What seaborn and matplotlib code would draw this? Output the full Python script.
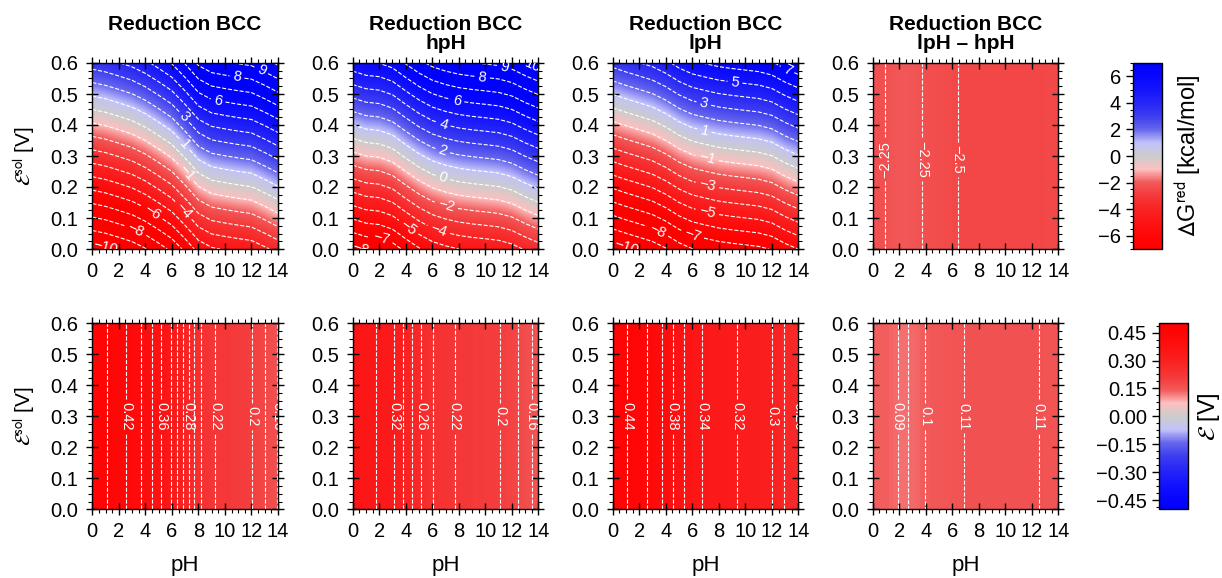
import numpy as np
import matplotlib
matplotlib.use("Agg")
import matplotlib.pyplot as plt
from matplotlib import colors as mcolors
from matplotlib.cm import ScalarMappable
from matplotlib.ticker import MultipleLocator, AutoMinorLocator, FuncFormatter
import seaborn as sns

# ---------------------------------------------------------------- data
# pH grid and reduction potential (V) of each state along it
ph_values = [0, 1, 2, 3, 4, 5, 6, 7, 8, 9, 10, 11, 12, 13, 14]
E_red_bcc = [0.450, 0.441, 0.428, 0.414, 0.393, 0.366, 0.337, 0.293,
             0.245, 0.222, 0.214, 0.207, 0.201, 0.181, 0.159]
E_red_hpH = [0.357, 0.3435, 0.339, 0.324, 0.293, 0.264, 0.241, 0.227,
             0.217, 0.211, 0.2065, 0.2015, 0.190, 0.169, 0.151]
E_red_lpH = [0.4555, 0.441, 0.428, 0.4145, 0.3935, 0.367, 0.348, 0.3375,
             0.328, 0.322, 0.317, 0.312, 0.301, 0.278, 0.2595]

F_KCAL = 23.06          # Faraday constant, kcal mol^-1 V^-1

titles = ["Reduction BCC", "Reduction BCC\nhpH", "Reduction BCC\nlpH",
          "Reduction BCC\nlpH \u2013 hpH"]

# colorbar ticks
dg_ticks = [-6, -4, -2, 0, 2, 4, 6]
e_ticks = [-0.45, -0.30, -0.15, 0.0, 0.15, 0.30, 0.45]

# contour levels and labelled contours (level, pH, E_sol) per panel
dg_levels = np.arange(-12, 13, 1)
dg_diff_levels = np.arange(-3.0, -1.9, 0.25)
e_levels = np.round(np.arange(0.0, 0.52, 0.02), 2)
e_diff_levels = [0.09, 0.1, 0.11]

top_labels = [
    [(9, 12.7, 0.573), (8, 10.9, 0.553), (6, 9.46, 0.475), (3, 6.87, 0.424),
     (1, 6.92, 0.335), (-1, 7.0, 0.243), (-4, 6.87, 0.123), (-6, 4.49, 0.114),
     (-8, 3.24, 0.06), (-10, 0.98, 0.003)],
    [(10, 13.5, 0.582), (9, 11.4, 0.582), (8, 9.75, 0.546), (6, 7.8, 0.471),
     (4, 6.77, 0.396), (2, 6.72, 0.31), (0, 6.77, 0.227), (-2, 7.0, 0.132),
     (-4, 6.47, 0.06), (-5, 4.08, 0.063), (-7, 2.12, 0.03), (-8, 0.6, 0.002)],
    [(7, 13.19, 0.58), (5, 9.19, 0.528), (3, 6.85, 0.466), (1, 6.9, 0.38),
     (-1, 7.1, 0.288), (-3, 7.1, 0.2), (-5, 7.1, 0.114), (-7, 5.97, 0.041),
     (-8, 3.37, 0.058), (-10, 1.0, 0.002)],
    [(-2.25, 0.9, 0.29), (-2.25, 3.6, 0.29), (-2.5, 6.3, 0.29)],
]
bottom_labels = [
    [(0.42, 2.6, 0.3), (0.36, 5.2, 0.3), (0.28, 7.27, 0.3), (0.22, 9.2, 0.3),
     (0.2, 12.05, 0.3), (0.16, 13.95, 0.3)],
    [(0.32, 3.1, 0.3), (0.26, 5.1, 0.3), (0.22, 7.7, 0.3), (0.2, 11.1, 0.3),
     (0.16, 13.5, 0.3)],
    [(0.44, 1.07, 0.3), (0.38, 4.5, 0.3), (0.34, 6.8, 0.3), (0.32, 9.4, 0.3),
     (0.3, 12.0, 0.3), (0.26, 14.0, 0.3)],
    [(0.09, 1.9, 0.3), (0.1, 3.95, 0.3), (0.11, 6.9, 0.3), (0.11, 12.5, 0.3)],
]

# ---------------------------------------------------------------- style
sns.set_theme(style="ticks")
plt.rcParams["font.family"] = ["Liberation Sans", "DejaVu Sans"]
plt.rcParams["mathtext.fontset"] = "stixsans"
plt.rcParams["axes.linewidth"] = 1.0
plt.rcParams["axes.edgecolor"] = "black"
plt.rcParams["axes.labelcolor"] = "black"
plt.rcParams["text.color"] = "black"
plt.rcParams["xtick.color"] = "black"
plt.rcParams["ytick.color"] = "black"
plt.rcParams["xtick.labelcolor"] = "black"
plt.rcParams["ytick.labelcolor"] = "black"

# red - pink - grey - lavender - blue ramp (negative -> positive)
ramp = [(1.00, 0.00, 0.00), (1.00, 0.03, 0.03), (0.99, 0.08, 0.08),
        (0.98, 0.14, 0.14), (0.96, 0.22, 0.22), (0.95, 0.35, 0.35),
        (0.99, 0.75, 0.75), (0.80, 0.80, 0.80), (0.76, 0.76, 0.98),
        (0.40, 0.40, 0.93), (0.24, 0.24, 0.94), (0.15, 0.15, 0.97),
        (0.08, 0.08, 0.99), (0.03, 0.03, 1.00), (0.00, 0.00, 1.00)]
cmap_dg = sns.blend_palette(ramp, n_colors=256, as_cmap=True)
cmap_e = cmap_dg.reversed()
norm_dg = mcolors.Normalize(-7, 7)
norm_e = mcolors.Normalize(-0.5, 0.5)
norm_e_diff = mcolors.Normalize(-0.35, 0.35)

FS = 14.5

# ---------------------------------------------------------------- fields
ph = np.asarray(ph_values, dtype=float)
E_sol = np.linspace(0.0, 0.6, 121)
states = [np.asarray(E_red_bcc), np.asarray(E_red_hpH), np.asarray(E_red_lpH)]

dg_maps = [F_KCAL * (E_sol[:, None] - e[None, :]) for e in states]
dg_maps.append(dg_maps[2] - dg_maps[1])
e_maps = [np.broadcast_to(e[None, :], (E_sol.size, ph.size)).copy() for e in states]
e_maps.append(e_maps[2] - e_maps[1])


def fmt_level(v):
    return f"{round(v, 3):g}".replace("-", "\u2212")


# ---------------------------------------------------------------- layout
W, H = 1222, 578
fig = plt.figure(figsize=(W / 100, H / 100), dpi=100)
lefts = [92.3, 352.7, 612.7, 872.7]
aw = 185.7
row_top = [63.0, 323.3]
ah = 186.0

dx = 0.5 * (ph[1] - ph[0])
dy = 0.5 * (E_sol[1] - E_sol[0])
extent = [ph[0] - dx, ph[-1] + dx, E_sol[0] - dy, E_sol[-1] + dy]
line_kw = dict(colors="white", linewidths=0.8, linestyles="--")


def style_axes(ax):
    ax.set_xlim(0, 14)
    ax.set_ylim(0, 0.6)
    ax.xaxis.set_major_locator(MultipleLocator(2))
    ax.xaxis.set_minor_locator(AutoMinorLocator(4))
    ax.yaxis.set_major_locator(MultipleLocator(0.1))
    ax.yaxis.set_minor_locator(AutoMinorLocator(4))
    ax.tick_params(which="both", top=True, right=True, labelsize=FS,
                   color="black", labelcolor="black")
    ax.tick_params(which="major", direction="inout", length=8, width=1.0)
    ax.tick_params(which="minor", direction="out", length=3, width=0.8)
    ax.tick_params(axis="x", which="major", pad=5.5)
    ax.tick_params(axis="y", which="major", pad=6)
    for s in ax.spines.values():
        s.set_linewidth(1.0)
        s.set_color("black")


for row in range(2):
    maps = dg_maps if row == 0 else e_maps
    cmap = cmap_dg if row == 0 else cmap_e
    labels = top_labels if row == 0 else bottom_labels
    for col in range(4):
        if row == 0:
            norm = norm_dg
            levels = dg_levels if col < 3 else dg_diff_levels
        else:
            norm = norm_e if col < 3 else norm_e_diff
            levels = e_levels if col < 3 else e_diff_levels
        ax = fig.add_axes([lefts[col] / W, 1 - (row_top[row] + ah) / H, aw / W, ah / H])
        ax.imshow(maps[col], origin="lower", extent=extent, aspect="auto",
                  cmap=cmap, norm=norm, interpolation="bilinear",
                  interpolation_stage="data")
        spec = labels[col]
        lab_levels = sorted(set(l for l, _, _ in spec))
        plain = [l for l in levels
                 if not any(abs(l - m) < 1e-9 for m in lab_levels)]
        if plain:
            ax.contour(ph, E_sol, maps[col], levels=plain, **line_kw)
        cs = ax.contour(ph, E_sol, maps[col], levels=lab_levels, **line_kw)
        cs.clabel(manual=[(x, y) for _, x, y in spec],
                  inline=True, inline_spacing=3, fmt=fmt_level,
                  fontsize=10.5, colors="white")
        style_axes(ax)
        if col == 0:
            ax.set_ylabel(r"$\mathcal{E}^{\mathrm{sol}}$ [V]", fontsize=15)
            ax.yaxis.set_label_coords(-0.30, 0.5)
        if row == 1:
            ax.set_xlabel("pH", fontsize=16, labelpad=10)
        if row == 0:
            fig.text((lefts[col] + aw / 2) / W, 1 - 14.5 / H, titles[col],
                     ha="center", va="top", fontsize=15, fontweight="bold",
                     linespacing=1.05, color="black")

# ---------------------------------------------------------------- colorbars
cb_specs = [
    (1133.3, 63.0, cmap_dg, norm_dg, dg_ticks,
     r"$\Delta$G$^{\mathrm{red}}$ [kcal/mol]", lambda v, p: fmt_level(v), 8),
    (1159.3, 323.3, cmap_e, norm_e, e_ticks,
     r"$\mathcal{E}$ [V]", lambda v, p: f"{v:.2f}".replace("-", "\u2212"), 6),
]
for x0, y0, cmap, norm, ticks, label, tfmt, lpad in cb_specs:
    cax = fig.add_axes([x0 / W, 1 - (y0 + ah) / H, 28.4 / W, ah / H])
    cb = fig.colorbar(ScalarMappable(norm=norm, cmap=cmap), cax=cax)
    cb.set_ticks(ticks)
    cb.ax.yaxis.set_major_formatter(FuncFormatter(tfmt))
    cb.ax.yaxis.set_minor_locator(AutoMinorLocator(4))
    cb.ax.yaxis.set_ticks_position("left")
    cb.ax.yaxis.set_label_position("right")
    cb.ax.tick_params(which="both", labelsize=FS, color="black",
                      labelcolor="black")
    cb.ax.tick_params(which="major", length=5, width=1.0, pad=4)
    cb.ax.tick_params(which="minor", length=2.5, width=0.8)
    cb.outline.set_linewidth(1.0)
    cb.outline.set_edgecolor("black")
    cb.set_label(label, fontsize=17, labelpad=lpad, color="black")

fig.savefig("out.png", dpi=100)
